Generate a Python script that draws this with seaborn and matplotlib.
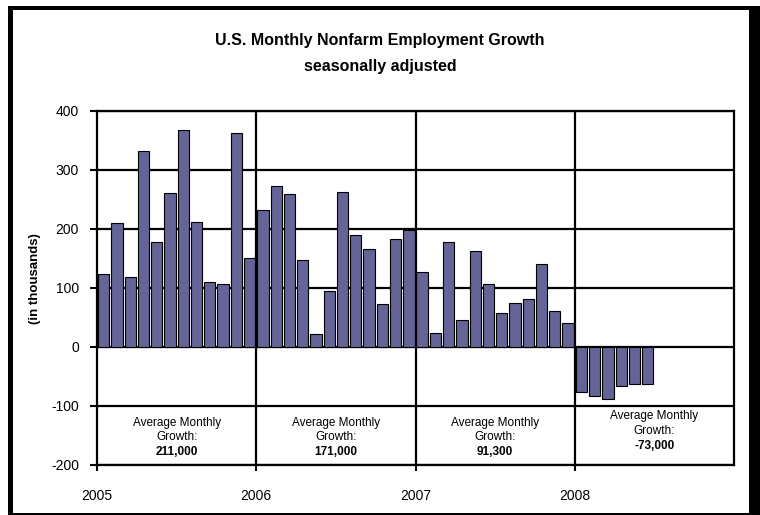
import matplotlib
matplotlib.use("Agg")
import matplotlib.pyplot as plt
import seaborn as sns
import numpy as np
import pandas as pd
from matplotlib.patches import Rectangle

# ---- data (thousands of jobs, monthly change) ----
growth_2005 = [124, 209, 119, 332, 177, 261, 368, 212, 110, 106, 362, 151]
growth_2006 = [232, 273, 259, 147, 22, 94, 262, 190, 165, 73, 182, 198]
growth_2007 = [126, 24, 177, 46, 163, 107, 57, 74, 81, 141, 60, 40]
growth_2008 = [-76, -83, -89, -67, -62, -62]
years = ["2005", "2006", "2007", "2008"]
avg_labels = ["211,000", "171,000", "91,300", "-73,000"]
y_ticks = [-200, -100, 0, 100, 200, 300, 400]

values = growth_2005 + growth_2006 + growth_2007 + growth_2008
df = pd.DataFrame({"month": np.arange(len(values)) + 0.5, "growth": values})

plt.rcParams["font.family"] = ["Liberation Sans", "DejaVu Sans"]

fig = plt.figure(figsize=(7.6, 5.15), dpi=100)
W, H = 760.0, 515.0
ax = fig.add_axes([97 / W, (H - 465) / H, (734 - 97) / W, (465 - 110.7) / H])

sns.barplot(data=df, x="month", y="growth", native_scale=True, width=0.85,
            color="#646496", saturation=1, edgecolor="black", linewidth=0.8,
            ax=ax, zorder=3)

ax.set_xlim(0, 48)
ax.set_ylim(-200, 400)
ax.set_yticks(y_ticks)
ax.set_yticklabels([str(v) for v in y_ticks], fontsize=10)
ax.set_xticks([0, 12, 24, 36])
ax.set_xticklabels(years, fontsize=10)
ax.set_xlabel("")
ax.set_ylabel("")
ax.tick_params(axis="y", direction="out", length=5, width=1.5, pad=8)
ax.tick_params(axis="x", direction="out", length=4, width=1.5, pad=13)

for v in y_ticks:
    ax.axhline(v, color="black", lw=1.6, zorder=1)
for xv in [12, 24, 36]:
    ax.axvline(xv, color="black", lw=1.6, zorder=4)
for s in ax.spines.values():
    s.set_color("black")
    s.set_linewidth(1.6)
    s.set_zorder(5)

# annotations
centers = [6, 18, 30, 42]
for i, (c, lab) in enumerate(zip(centers, avg_labels)):
    ys = (-117, -143, -168) if i == 3 else (-129, -153, -178)
    ax.text(c, ys[0], "Average Monthly", ha="center", va="center", fontsize=8.5, zorder=6)
    ax.text(c, ys[1], "Growth:", ha="center", va="center", fontsize=8.5, zorder=6)
    ax.text(c, ys[2], lab, ha="center", va="center", fontsize=8.5, fontweight="bold", zorder=6)

# titles
fig.text(0.5, 1 - 40 / H, "U.S. Monthly Nonfarm Employment Growth", ha="center", va="center",
         fontsize=11.5, fontweight="bold")
fig.text(0.5, 1 - 67 / H, "seasonally adjusted", ha="center", va="center",
         fontsize=11.5, fontweight="bold")
fig.text(35 / W, 1 - 279 / H, "(in thousands)", rotation=90, ha="center", va="center",
         fontsize=9.5, fontweight="bold")

# outer frame
def prect(x0, y0, x1, y1):
    fig.patches.append(Rectangle((x0 / W, 1 - y1 / H), (x1 - x0) / W, (y1 - y0) / H,
                                 transform=fig.transFigure, facecolor="black",
                                 edgecolor="none", zorder=10))

prect(8, 6, 13, 515)
prect(8, 6, 757, 10)
prect(749, 6, 760, 515)
prect(8, 512.5, 760, 515)

fig.savefig("out.png", dpi=100)
